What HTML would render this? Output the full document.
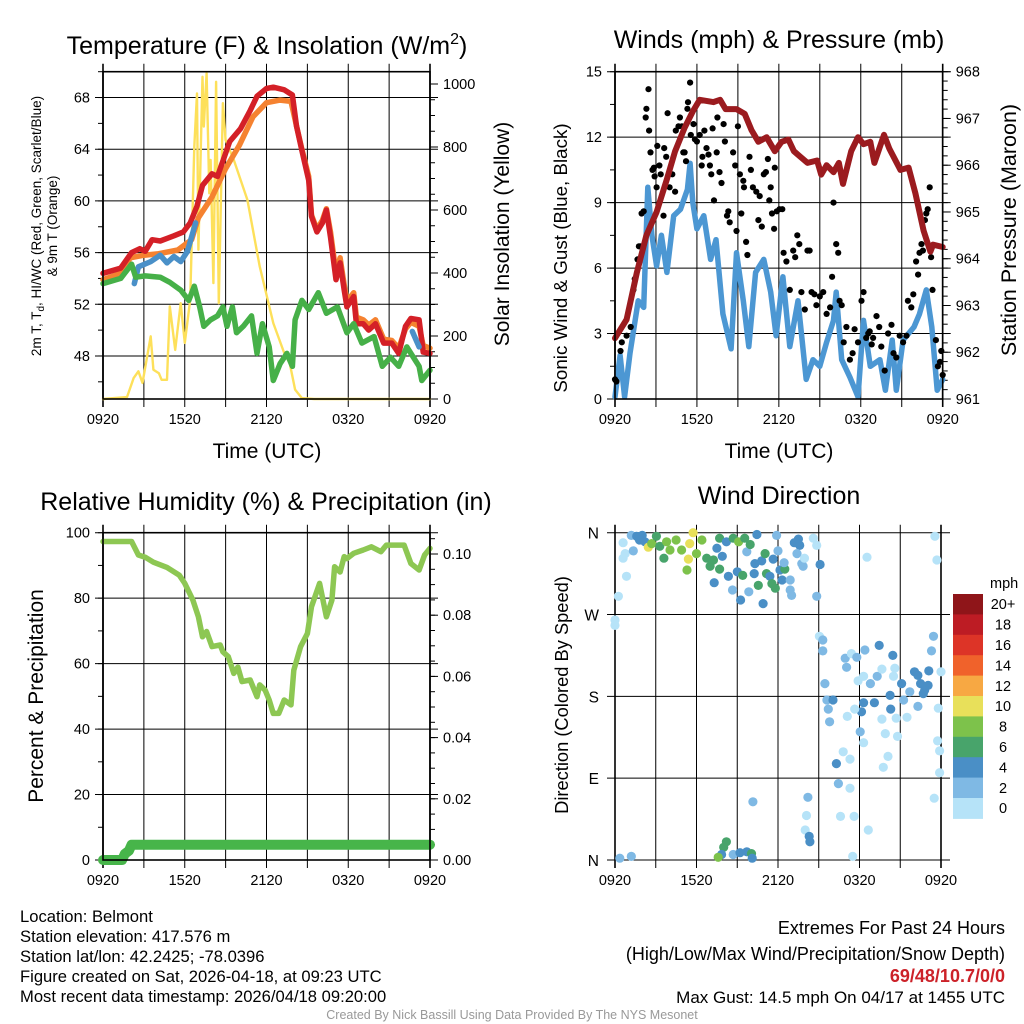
<!DOCTYPE html>
<html><head><meta charset="utf-8">
<style>
html,body{margin:0;padding:0;background:#fff;}
svg{display:block;font-family:"Liberation Sans",Arial,sans-serif;}
</style></head>
<body>
<svg id="chart" xmlns="http://www.w3.org/2000/svg" width="1024" height="1024" viewBox="0 0 1024 1024">
<rect x="0" y="0" width="1024" height="1024" fill="#fff"/>
<g id="p1"></g>
<g id="p2"></g>
<g id="p3"></g>
<g id="p4"></g>
<g id="txt">
<text x="267" y="54" font-size="25" text-anchor="middle">Temperature (F) &amp; Insolation (W/m<tspan dy="-10" font-size="16">2</tspan><tspan dy="10">)</tspan></text>
<text x="779" y="48" font-size="25" text-anchor="middle">Winds (mph) &amp; Pressure (mb)</text>
<text x="266" y="510" font-size="25" text-anchor="middle">Relative Humidity (%) &amp; Precipitation (in)</text>
<text x="779" y="504" font-size="25" text-anchor="middle">Wind Direction</text>
<text x="267" y="458" font-size="21" text-anchor="middle">Time (UTC)</text>
<text x="779" y="458" font-size="21" text-anchor="middle">Time (UTC)</text>
<text transform="translate(41,226) rotate(-90)" font-size="13.5" text-anchor="middle">2m T, T<tspan font-size="10" dy="3">d</tspan><tspan dy="-3">, HI/WC (Red, Green, Scarlet/Blue)</tspan></text>
<text transform="translate(57,226) rotate(-90)" font-size="13.5" text-anchor="middle">&amp; 9m T (Orange)</text>
<text transform="translate(509,234) rotate(-90)" font-size="21" text-anchor="middle">Solar Insolation (Yellow)</text>
<text transform="translate(567,258) rotate(-90)" font-size="18.8" text-anchor="middle">Sonic Wind &amp; Gust (Blue, Black)</text>
<text transform="translate(1016,230) rotate(-90)" font-size="21.5" text-anchor="middle">Station Pressure (Maroon)</text>
<text transform="translate(43,696) rotate(-90)" font-size="21" text-anchor="middle">Percent &amp; Precipitation</text>
<text transform="translate(568,695) rotate(-90)" font-size="18.3" text-anchor="middle">Direction (Colored By Speed)</text>
<text x="20" y="922" font-size="16.6">Location: Belmont</text>
<text x="20" y="942" font-size="16.6">Station elevation: 417.576 m</text>
<text x="20" y="962" font-size="16.6">Station lat/lon: 42.2425; -78.0396</text>
<text x="20" y="982" font-size="16.6">Figure created on Sat, 2026-04-18, at 09:23 UTC</text>
<text x="20" y="1002" font-size="16.6">Most recent data timestamp: 2026/04/18 09:20:00</text>
<text x="1005" y="934" font-size="18" text-anchor="end">Extremes For Past 24 Hours</text>
<text x="1005" y="960" font-size="18" text-anchor="end">(High/Low/Max Wind/Precipitation/Snow Depth)</text>
<text x="1005" y="982" font-size="18" font-weight="bold" fill="#cc2229" text-anchor="end">69/48/10.7/0/0</text>
<text x="1005" y="1003" font-size="17" text-anchor="end">Max Gust: 14.5 mph On 04/17 at 1455 UTC</text>
<text x="512" y="1019" font-size="12.5" fill="#999" text-anchor="middle">Created By Nick Bassill Using Data Provided By The NYS Mesonet</text>
</g>
</svg>
<script>
// ---------- data (time in hours since 0920 UTC) ----------
const xTickLabels = ["0920","1520","2120","0320","0920"];
const tempTicks = [48,52,56,60,64,68];
const solarTicks = [0,200,400,600,800,1000];
const windTicks = [0,3,6,9,12,15];
const presTicks = [961,962,963,964,965,966,967,968];
const rhTicks = [0,20,40,60,80,100];
const precipTicks = [0,0.02,0.04,0.06,0.08,0.10];
const dirLabels = ["N","E","S","W","N"];
const dirTicks = [0,90,180,270,360];

const redT = [0,1.3,2.1,2.7,3.1,3.6,4.2,4.7,5.2,5.9,6.4,6.9,7.3,8.0,8.4,8.9,9.3,10.1,10.8,11.3,12.0,12.5,13.3,13.9,14.2,14.6,15.1,15.3,15.7,16.1,16.4,16.7,17.1,17.4,17.7,17.9,18.4,18.6,19.1,19.5,20.0,20.6,21.2,21.7,22.2,22.6,23.2,23.5,24];
const redV = [54.4,54.8,56.0,56.3,56.1,57.0,56.9,57.1,57.3,57.6,58.3,59.6,61.2,62.1,61.9,63.4,64.6,65.6,67.0,68.1,68.7,68.8,68.6,68.2,65.8,63.9,61.6,58.8,57.6,58.3,59.3,57.2,53.9,55.2,53.1,51.8,52.6,50.5,50.5,50.0,50.5,49.0,49.0,48.2,50.3,50.9,50.8,48.3,48.2];
const orgT = [0,1.3,2.0,3.0,4.0,5.5,6.5,7.0,8.0,9.0,10.0,11.0,12.0,13.0,13.8,14.2,14.6,15.1,15.3,15.7,16.1,16.4,16.7,17.1,17.4,17.7,17.9,18.4,18.6,19.1,19.5,20.0,20.6,21.2,21.7,22.2,22.6,23.2,23.5,24];
const orgV = [53.9,54.4,55.6,55.8,55.9,56.2,57.0,58.7,60.3,62.5,64.3,66.5,67.6,67.8,67.7,65.8,64.0,61.9,58.9,57.8,58.5,59.4,57.6,54.4,55.6,53.5,52.2,52.9,51.0,50.8,50.4,50.8,49.3,49.2,48.6,50.1,50.6,50.3,48.8,48.6];
const dewT = [0,1.3,2.1,2.4,3.1,4.2,4.9,5.7,6.3,6.7,7.1,7.4,7.9,8.4,8.8,9.1,9.5,9.8,10.3,10.9,11.3,11.7,12.2,12.5,13.0,13.5,13.9,14.1,14.6,15.1,15.8,16.4,17.2,17.9,18.4,19.0,19.9,20.5,21.1,21.7,22.3,23.2,23.4,24];
const dewV = [53.6,54.0,55.1,54.1,54.2,54.1,53.7,53.1,52.3,53.4,51.8,50.3,50.8,51.1,51.8,50.3,51.8,49.8,50.3,51.1,48.2,50.5,48.7,46.1,47.4,48.2,47.2,50.8,52.3,51.6,52.9,51.3,51.8,49.8,50.5,49.0,49.5,47.2,47.9,47.2,48.7,47.2,46.1,46.9];
const hiT1 = [2.3,2.6,3.5,4.2,4.7,5.2,5.7,6.2,6.8];
const hiV1 = [53.6,54.9,55.3,55.8,55.2,55.7,55.3,56.1,58.3];
const hiT2 = [22.7,23.2];
const hiV2 = [49.9,48.7];
const solT = [0,1.76,2.25,2.6,2.9,3.5,3.7,4.1,4.3,4.7,4.9,5.3,5.7,6.0,6.4,6.7,6.9,7.0,7.3,7.4,7.6,7.8,7.9,8.1,8.3,8.5,8.8,9.0,9.6,10.6,11.5,12.5,13.3,13.7,14.1,14.6,15.5,24];
const solV = [0,6,67,88,51,199,93,82,61,61,294,156,304,178,315,801,970,474,1023,865,1034,653,759,368,1007,304,939,822,759,632,421,241,146,114,30,3,0,0];

const presT = [0,0.85,1.6,2.3,3.05,3.8,4.4,5.1,5.7,6.2,7.2,7.7,8.1,8.9,9.5,10.0,10.5,11.1,11.7,12.2,12.7,13.1,13.5,14.1,14.8,15.1,15.5,16.0,16.4,16.7,17.3,17.8,18.2,18.7,19.0,19.7,20.1,20.9,21.5,22.0,22.6,23.1,23.3,24];
const presV = [962.3,962.7,963.7,964.5,965.0,965.7,966.3,966.8,967.15,967.4,967.35,967.4,967.2,967.2,967.1,966.75,966.5,966.6,966.3,966.5,966.55,966.3,966.2,966.05,966.1,965.8,966.0,965.85,966.05,965.6,966.3,966.6,966.45,966.5,966.05,966.65,966.35,965.9,965.95,965.4,964.6,964.15,964.3,964.25];
const windT = [0,0.37,0.7,1.1,1.7,2.1,2.4,2.7,3.05,3.4,3.8,4.3,4.8,5.3,5.5,5.7,6.0,6.5,7.0,7.4,7.9,8.5,8.9,9.4,9.8,10.3,10.9,11.4,11.8,12.3,12.8,13.4,14.0,14.5,15.0,15.5,16.0,16.2,16.6,17.2,17.8,18.2,18.7,19.4,19.8,20.3,20.6,21.1,21.9,22.3,22.8,23.2,23.6,24];
const windV = [0.1,2.0,0.1,2.1,4.5,4.2,9.7,7.5,6.1,7.5,5.8,8.4,8.7,9.6,10.8,9.0,7.8,8.4,6.4,7.3,3.9,2.3,6.7,4.5,2.4,5.8,6.4,4.9,2.9,5.6,2.4,4.5,0.9,1.8,1.5,2.6,3.6,4.9,1.8,1.0,0.1,3.6,1.5,1.8,0.4,2.7,0.4,2.7,3.3,3.9,5.0,3.3,0.4,0.9];
const gustT = [0.0,0.1,0.4,0.5,0.85,1.15,1.35,1.45,1.65,1.75,1.85,1.95,2.1,2.25,2.3,2.45,2.5,2.6,2.75,2.85,2.9,3.05,3.1,3.25,3.35,3.55,3.6,3.75,3.85,4.0,4.2,4.4,4.45,4.65,4.75,4.9,5.0,5.1,5.2,5.3,5.35,5.5,5.55,5.75,5.85,6.0,6.2,6.35,6.4,6.55,6.7,6.85,6.95,7.05,7.15,7.25,7.45,7.5,7.65,7.8,7.95,8.05,8.2,8.3,8.4,8.65,8.8,8.9,9.0,9.15,9.25,9.4,9.45,9.6,9.7,9.85,9.95,10.1,10.35,10.5,10.6,10.75,10.9,11.05,11.2,11.3,11.4,11.5,11.65,11.7,11.85,12.05,12.25,12.35,12.55,12.8,13.05,13.2,13.35,13.5,13.65,13.9,14.1,14.25,14.4,14.6,14.75,15.0,15.25,15.5,15.75,15.9,16.0,16.2,16.35,16.45,16.6,16.75,16.95,17.2,17.4,17.55,17.8,18.05,18.2,18.4,18.55,18.65,18.8,18.9,19.15,19.35,19.5,19.75,20.0,20.25,20.4,20.6,20.85,21.1,21.35,21.45,21.7,21.85,22.05,22.2,22.3,22.45,22.55,22.7,22.8,22.9,23.05,23.15,23.25,23.5,23.65,23.8,23.9,24.0];
const gustV = [0.9,0.8,2.2,2.6,2.9,3.3,5.0,5.5,6.4,7.0,7.0,8.5,8.6,12.9,13.3,14.2,12.3,11.3,10.5,10.6,10.2,9.7,11.6,10.7,10.3,8.4,11.5,11.1,13.1,9.7,10.3,9.5,12.3,12.5,12.9,12.5,11.3,11.3,10.9,13.3,13.6,14.5,12.1,12.6,11.9,11.8,12.1,10.7,11.1,12.3,11.5,11.2,10.7,10.3,12.4,9.1,11.3,12.9,10.4,9.9,12.6,11.8,8.4,8.6,8.1,11.3,10.7,7.7,12.5,10.3,8.5,10.0,9.7,7.2,6.6,11.1,10.5,9.7,9.5,8.2,9.3,7.9,10.3,10.4,11.0,9.1,9.7,8.5,7.8,10.6,8.6,8.7,8.7,6.7,6.3,5.0,6.8,6.5,7.5,7.1,4.9,4.1,6.8,6.8,4.9,4.8,4.3,4.7,4.9,3.9,4.2,5.6,9.0,7.1,6.7,4.5,4.3,2.6,3.3,1.8,2.1,3.2,2.6,4.5,4.9,2.8,3.0,3.1,2.5,2.8,3.8,3.3,2.4,1.3,3.0,3.4,2.1,1.9,2.9,2.6,2.9,4.5,4.2,4.8,6.3,5.7,6.7,7.1,6.8,8.2,8.5,8.7,9.7,6.5,5.0,2.7,1.5,1.7,2.2,1.1];

const rhT = [0,2.1,2.6,3.1,3.7,4.7,5.6,6.0,6.6,7.0,7.3,7.6,8.0,8.6,8.8,9.2,9.6,9.9,10.2,10.8,11.3,11.5,11.9,12.2,12.5,12.9,13.3,13.8,14.0,14.5,15.0,15.3,15.9,16.4,16.8,17.0,17.4,17.7,17.9,18.4,19.1,19.7,20.4,20.8,22.1,22.6,23.2,23.6,24];
const rhV = [97.3,97.3,93.2,92.5,91.0,89.4,87.0,84.5,79.4,74.3,68.2,69.8,65.2,65.7,63.6,62.1,57.0,58.9,54.5,55.0,49.9,53.5,51.9,48.9,44.8,44.8,48.9,47.4,58.0,65.2,69.2,77.4,84.5,74.3,79.4,89.6,88.0,92.7,92.1,93.7,94.7,95.7,94.2,96.2,96.2,90.6,88.6,93.2,95.2];
const prT = [0,1.4,1.6,1.9,2.1,24];
const prV = [0,0,0.002,0.003,0.005,0.005];

const dirT = [0.6,0.75,0.6,0.85,0.25,0,0,1.35,1.2,1.6,2.0,1.8,2.2,2.45,2.7,3.05,3.3,3.6,3.8,4.05,4.5,4.9,5.3,5.4,5.5,5.75,6.0,6.4,6.75,7.0,7.25,7.5,7.7,7.7,7.9,8.2,8.35,7.3,8.65,8.7,9.0,9.1,9.25,9.4,9.55,9.7,9.85,9.95,10.3,10.25,10.45,10.55,10.8,10.9,11.05,11.15,11.4,11.55,11.65,11.8,11.9,12.0,12.15,12.3,12.5,12.45,12.9,13.0,12.9,13.2,13.5,13.6,13.4,13.75,13.85,13.95,14.6,14.85,15.1,14.85,18.55,23.55,23.7,
15.05,15.3,15.3,15.45,15.6,16.05,15.7,15.8,16.95,17.05,17.4,17.8,18.4,19.45,20.45,17.9,18.3,18.8,19.3,19.65,20.6,20.5,18.3,18.15,17.65,17.1,19.1,20.25,20.3,20.7,21.1,21.5,21.25,21.7,22.05,22.3,22.5,22.8,23.05,22.7,22.3,23.1,23.45,23.3,23.8,24.0,19.65,19.9,18.05,18.3,20.8,20.1,16.8,17.3,16.3,19.75,23.75,23.9,23.9,
16.45,17.3,14.2,14.1,16.6,17.6,14.0,14.3,14.35,18.65,17.5,10.15,23.5,0.35,1.2,8.2,8.0,7.85,7.6,8.7,9.2,9.7,10.05,10.1];
const dirV = [349,337,332,312,290,264,258,340,357,356,357,352,350,344,348,356,345,332,350,341,352,341,319,331,348,360,337,352,332,323,330,343,320,354,334,350,312,305,297,354,317,350,286,313,354,339,295,347,326,315,358,302,329,282,337,315,312,304,331,299,357,340,319,308,320,327,297,291,308,349,353,346,337,326,323,332,354,346,325,290,333,356,330,
246,242,230,194,176,176,166,152,222,212,227,223,231,236,225,197,202,194,202,210,211,202,173,163,166,158,173,181,166,156,194,157,176,185,207,203,194,187,192,183,169,208,246,230,167,207,155,139,141,129,136,114,119,111,106,102,131,120,96,
84,79,69,49,48,48,33,26,20,33,4,64,68,2,4,20,14,6,3,6,8,9,7,2];
const dirS = [1,1,1,1,1,1,1,3,3,5,5,5,5,11,9,7,7,7,9,9,9,9,9,11,11,11,9,9,7,7,7,5,7,7,5,5,5,5,3,7,5,9,5,7,7,3,3,7,5,5,5,7,5,5,7,7,5,7,5,7,3,3,5,5,7,3,3,3,3,5,5,5,3,3,3,1,1,1,5,3,1,1,1,
1,3,3,3,3,5,3,3,3,3,1,3,3,5,5,1,1,3,3,1,1,1,5,5,1,1,5,5,5,1,5,1,3,3,5,5,5,5,5,5,3,5,3,3,1,1,1,1,3,1,1,1,1,1,5,1,1,1,1,
3,1,3,1,1,1,1,5,5,1,1,3,1,3,3,7,7,5,9,3,5,5,7,5];
const speedBins = ["0","2","4","6","8","10","12","14","16","18","20+"];
const speedColors = ["#b6e3f8","#7fb9e4","#4a8fc6","#48a46b","#7dc24b","#e8e05a","#f7a843","#f0622b","#dd3427","#bd1c24","#8f1519"];

// ---------- helpers ----------
const NS="http://www.w3.org/2000/svg";
function mk(parent,tag,attrs){const e=document.createElementNS(NS,tag);for(const k in attrs)e.setAttribute(k,attrs[k]);parent.appendChild(e);return e;}
function scale(d0,d1,r0,r1){return v=>r0+(v-d0)/(d1-d0)*(r1-r0);}
function pathFrom(ts,vs,sx,sy){return ts.map((t,i)=>(i?"L":"M")+sx(t).toFixed(1)+","+sy(vs[i]).toFixed(1)).join("");}

function frame(g,L,R,T,B,sx){
  for(let h=0;h<=24;h+=3){
    const x=sx(h);
    const l=mk(g,"line",{x1:x,x2:x,y1:T-8,y2:B+8,stroke:"#000","stroke-width":(h==0||h==24)?1.6:1});
    
    
  }
  xTickLabels.forEach((s,i)=>{
    const t=mk(g,"text",{x:sx(i*6),y:B+25,"font-size":14.5,"text-anchor":"middle"});t.textContent=s;
    
    
  });
}
function hgrid(g,L,R,ticks,sy,labelFn,minorStep,dmin,dmax){
  ticks.forEach(v=>{
    const y=sy(v);
    const l=mk(g,"line",{x1:L-8,x2:R+8,y1:y,y2:y,stroke:"#000","stroke-width":1});
    
    
    const t=mk(g,"text",{x:L-13,y:y+5,"font-size":14.5,"text-anchor":"end"});t.textContent=labelFn(v);
    
    
  });
  for(let v=dmin;v<=dmax+1e-9;v+=minorStep){const y=sy(v);
    const m=mk(g,"line",{x1:L-5,x2:L,y1:y,y2:y,stroke:"#000","stroke-width":1});
    
    }
}
function rightAxis(g,R,ticks,sy,labelFn,minorStep,dmin,dmax){
  ticks.forEach(v=>{const y=sy(v);
    const l=mk(g,"line",{x1:R,x2:R+8,y1:y,y2:y,stroke:"#000","stroke-width":1});
    
    
    const t=mk(g,"text",{x:R+13,y:y+5,"font-size":14.5});t.textContent=labelFn(v);
    
    });
  for(let v=dmin;v<=dmax+1e-9;v+=minorStep){const y=sy(v);
    const m=mk(g,"line",{x1:R,x2:R+5,y1:y,y2:y,stroke:"#000","stroke-width":1});
    
    }
}
function box(g,L,R,T,B){const r=mk(g,"rect",{x:L,y:T,width:R-L,height:B-T,fill:"none",stroke:"#000","stroke-width":1.6});
  
  }
function line(g,ts,vs,sx,sy,color,w,name){const p=mk(g,"path",{d:pathFrom(ts,vs,sx,sy),fill:"none",stroke:color,"stroke-width":w,"stroke-linejoin":"round","stroke-linecap":"round"});
  
  return p;}

// ---------- panel 1 ----------
(function(){
  const g=document.getElementById("p1");
  const L=103,R=430,T=71.7,B=399;
  const sx=scale(0,24,L,R), sy=scale(44.67,70,B,T), ss=scale(0,1000,B,84);
  frame(g,L,R,T,B,sx);
  hgrid(g,L,R,tempTicks,sy,v=>String(v),2,46,70);
  rightAxis(g,R,solarTicks,ss,v=>String(v),50,0,1000);
  line(g,solT,solV,sx,ss,"#fde05a",2.4,"solar-insolation-line");
  line(g,orgT,orgV,sx,sy,"#f58230",5.5,"temp-9m-line");
  line(g,redT,redV,sx,sy,"#d42027",5.5,"temp-2m-line");
  line(g,hiT1,hiV1,sx,sy,"#4a90c8",5.5,"heat-index-line");
  line(g,hiT2,hiV2,sx,sy,"#4a90c8",5.5,"wind-chill-line");
  line(g,dewT,dewV,sx,sy,"#46b048",5.5,"dewpoint-line");
  box(g,L,R,T,B);
})();

// ---------- panel 2 ----------
(function(){
  const g=document.getElementById("p2");
  const L=615,R=942.7,T=71.7,B=399;
  const sx=scale(0,24,L,R), sy=scale(0,15,B,T), sp=scale(961,968,B,T);
  frame(g,L,R,T,B,sx);
  hgrid(g,L,R,windTicks,sy,v=>String(v),1.5,0,15);
  rightAxis(g,R,presTicks,sp,v=>String(v),0.2,961,968);
  line(g,windT,windV,sx,sy,"#4c97d3",5.5,"sonic-wind-line");
  gustT.forEach((t,i)=>{const c=mk(g,"circle",{cx:sx(t).toFixed(1),cy:sy(gustV[i]).toFixed(1),r:3.1,fill:"#000"});
    
    });
  line(g,presT,presV,sx,sp,"#9b1b1f",6,"pressure-line");
  box(g,L,R,T,B);
})();

// ---------- panel 3 ----------
(function(){
  const g=document.getElementById("p3");
  const L=103,R=430,T=532.7,B=860;
  const sx=scale(0,24,L,R), sy=scale(0,100,B,T), sp=scale(0,0.1,B,554);
  frame(g,L,R,T,B,sx);
  hgrid(g,L,R,rhTicks,sy,v=>String(v),10,0,100);
  rightAxis(g,R,precipTicks,sp,v=>v.toFixed(2),0.005,0,0.105);
  line(g,rhT,rhV,sx,sy,"#8dc753",5.5,"relative-humidity-line");
  line(g,prT,prV,sx,sp,"#47b54a",10,"precipitation-line");
  box(g,L,R,T,B);
})();

// ---------- panel 4 ----------
(function(){
  const g=document.getElementById("p4");
  const L=615,R=941,T=532.7,B=860;
  const sx=scale(0,24,L,R), sy=scale(0,360,B,T);
  frame(g,L,R,T,B,sx);
  dirTicks.forEach((v,i)=>{const y=sy(v);
    const l=mk(g,"line",{x1:L-8,x2:R+9,y1:y,y2:y,stroke:"#000","stroke-width":1});
    
    
    const t=mk(g,"text",{x:L-16,y:y+6,"font-size":15.5,"text-anchor":"end"});t.textContent=dirLabels[i];
    
    });
  dirT.forEach((t,i)=>{
    const bin=Math.min(10,Math.floor(dirS[i]/2));
    const c=mk(g,"circle",{cx:sx(t).toFixed(1),cy:sy(dirV[i]).toFixed(1),r:4.6,fill:speedColors[bin]});
    
    });
  const cx=953,cw=30,top=594,bh=20.4;
  const lab=mk(g,"text",{x:990,y:588,"font-size":14.5});lab.textContent="mph";
  
  
  speedBins.forEach((s,i)=>{
    const k=10-i;
    const r=mk(g,"rect",{x:cx,y:top+i*bh,width:cw,height:bh+0.5,fill:speedColors[k]});
    
    
    const t=mk(g,"text",{x:1003,y:top+i*bh+bh/2+5,"font-size":14.5,"text-anchor":"middle"});t.textContent=speedBins[k];
    
    
  });
})();
</script>
</body></html>
